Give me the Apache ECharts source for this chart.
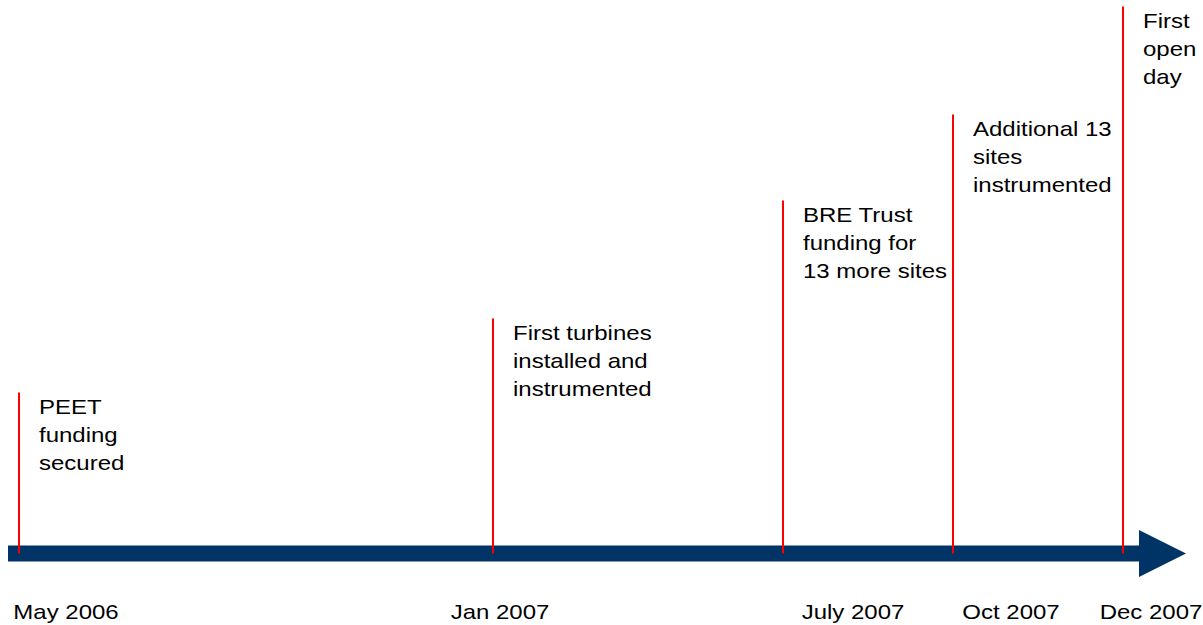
<!DOCTYPE html>
<html>
<head>
<meta charset="utf-8">
<script src="https://cdn.jsdelivr.net/npm/echarts@6/dist/echarts.min.js"></script>
<style>
html,body{margin:0;padding:0;background:#fff;}
#chart{width:1203px;height:625px;}
</style>
</head>
<body>
<div id="chart"></div>
<script>
// Timeline events: position along the timeline, stem height above the arrow, label
var eventPositions = [19, 493, 783, 953, 1123];
var eventHeights = [161, 235, 353, 439, 547];
var eventLabels = [
  'PEET\nfunding\nsecured',
  'First turbines\ninstalled and\ninstrumented',
  'BRE Trust\nfunding for\n13 more sites',
  'Additional 13\nsites\ninstrumented',
  'First\nopen\nday'
];
// Date tick labels along the bottom
var dateLabels = ['May 2006', 'Jan 2007', 'July 2007', 'Oct 2007', 'Dec 2007'];
var datePositions = [66, 500, 853, 1011, 1151];
// Timeline arrow extent
var arrowStart = 8;
var arrowEnd = 1186;

var FONT = 'Liberation Sans, Arial, sans-serif';
var SX = 1.2;

var chart = echarts.init(document.getElementById('chart'), null, {renderer: 'svg'});

var eventData = eventPositions.map(function (p, i) { return [p, eventHeights[i], eventLabels[i]]; });
var dateData = datePositions.map(function (p, i) { return [p, 0, dateLabels[i]]; });

chart.setOption({
  animation: false,
  grid: {left: 0, right: 0, top: 0, bottom: 0},
  xAxis: {type: 'value', min: 0, max: 1203, show: false},
  yAxis: {type: 'value', min: -71.5, max: 553.5, show: false},
  series: [
    {
      type: 'custom',
      silent: true,
      data: [[arrowStart, arrowEnd]],
      renderItem: function (params, api) {
        var s = api.coord([api.value(0), 0]);
        var e = api.coord([api.value(1), 0]);
        var headLen = 47, headHalf = 23.5, half = 8;
        return {
          type: 'group',
          children: [
            {type: 'rect', shape: {x: s[0], y: s[1] - half, width: (e[0] - headLen) - s[0] + 1, height: half * 2},
             style: {fill: '#003366'}},
            {type: 'polygon', shape: {points: [[e[0] - headLen, e[1] - headHalf], [e[0], e[1]], [e[0] - headLen, e[1] + headHalf]]},
             style: {fill: '#003366'}}
          ]
        };
      },
      z: 1
    },
    {
      type: 'custom',
      silent: true,
      data: eventData,
      renderItem: function (params, api) {
        var base = api.coord([api.value(0), 0]);
        var top = api.coord([api.value(0), api.value(1)]);
        var label = eventLabels[params.dataIndex];
        return {
          type: 'group',
          children: [
            {type: 'line', shape: {x1: base[0], y1: base[1], x2: top[0], y2: top[1]},
             style: {stroke: '#ff0000', lineWidth: 2}},
            {type: 'text', x: top[0] + 20, y: top[1] + 1, scaleX: SX,
             style: {text: label, x: 0, y: 0, fill: '#000', fontSize: 20, fontFamily: FONT,
                     lineHeight: 28, align: 'left', verticalAlign: 'top'}}
          ]
        };
      },
      z: 2
    },
    {
      type: 'custom',
      silent: true,
      data: dateData,
      renderItem: function (params, api) {
        var p = api.coord([api.value(0), 0]);
        return {
          type: 'text', x: p[0], y: p[1] + 59, scaleX: SX,
          style: {text: dateLabels[params.dataIndex], x: 0, y: 0, fill: '#000', fontSize: 20,
                  fontFamily: FONT, align: 'center', verticalAlign: 'middle'}
        };
      },
      z: 2
    }
  ]
});
</script>
</body>
</html>
